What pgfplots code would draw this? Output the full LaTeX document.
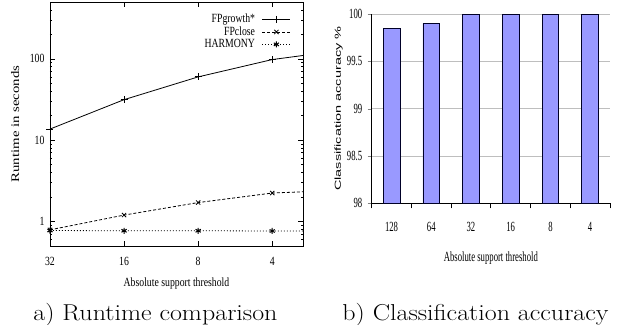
\documentclass[border=0pt]{standalone}
\usepackage{graphicx}
\usepackage{fontspec}
\usepackage{pgfplots}
\pgfplotsset{compat=1.18}
\newfontfamily\gpL[FakeStretch=0.78]{Liberation Serif}
\newfontfamily\gpR[FakeStretch=0.62]{Liberation Serif}
\newfontfamily\tnr{Liberation Serif}
\newfontfamily\arialR{Liberation Sans}
\definecolor{barfill}{RGB}{153,153,255}
\definecolor{gridgray}{RGB}{190,190,190}
\newcommand{\fL}{\gpL\fontsize{12.5bp}{14bp}\selectfont}
\newcommand{\fR}{\gpR\fontsize{14bp}{15bp}\selectfont}
\begin{document}
\begin{tikzpicture}
\useasboundingbox (0,0) rectangle (631bp,-325bp);
% ---------------- left: runtime ----------------
\begin{axis}[
  at={(50bp,-246bp)}, anchor=south west,
  scale only axis, width=253bp, height=244bp,
  xmode=log, log basis x=2, x dir=reverse,
  xmin=3, xmax=32,
  ymode=log, ymin=0.5, ymax=500,
  xtick={32,16,8,4}, xticklabels={32,16,8,4},
  minor xtick={},
  ytick={1,10,100}, yticklabels={1,10,100},
  minor ytick={0.6,0.7,0.8,0.9,2,3,4,5,6,7,8,9,20,30,40,50,60,70,80,90,200,300,400},
  tick align=inside,
  major tick length=5bp, minor tick length=2.5bp,
  every tick/.style={black, line width=0.6bp},
  axis line style={line width=0.9bp},
  tick label style={font=\fL},
  x tick label style={anchor=center, yshift=-15bp},
  y tick label style={anchor=east, xshift=-2bp},
  xlabel={Absolute support threshold},
  xlabel style={at={(axis description cs:0.5,-0.152)}, anchor=center, font=\fL},
  ylabel={\scalebox{1}[0.78]{\tnr\fontsize{14.8bp}{15bp}\selectfont Runtime in seconds}},
  ylabel style={at={(axis description cs:-0.138,0.5)}, anchor=center},
  legend plot pos=right,
  legend cell align=right,
  legend style={draw=none, fill=none, font=\fL, at={(rel axis cs:1,1)}, anchor=north east, xshift=-11bp, yshift=-9bp, row sep=-1.5bp, inner sep=1bp,
    /tikz/every odd column/.append style={column sep=5bp}},
  legend image code/.code={\draw[#1, mark indices={2}] plot coordinates {(0bp,0bp) (14bp,0bp) (28bp,0bp)};},
]
\addplot[black, line width=0.8bp, mark=+, mark size=3.5bp, mark indices={1,2,3,4}, mark options={solid}]
  coordinates {(32,13.7) (16,31.5) (8,60) (4,98) (3,110)};
\addlegendentry{FPgrowth*}
\addplot[black, line width=0.8bp, dash pattern=on 3bp off 2bp, mark=x, mark size=3bp, mark indices={1,2,3,4}, mark options={solid}]
  coordinates {(32,0.79) (16,1.2) (8,1.71) (4,2.24) (3,2.32)};
\addlegendentry{FPclose}
\addplot[black, line width=0.8bp, dash pattern=on 1bp off 2bp, mark=asterisk, mark size=3bp, mark indices={1,2,3,4}, mark options={solid, line width=1bp}]
  coordinates {(32,0.775) (16,0.77) (8,0.77) (4,0.765) (3,0.765)};
\addlegendentry{HARMONY}
\end{axis}
% ---------------- right: accuracy ----------------
\begin{axis}[
  at={(371.7bp,-203.3bp)}, anchor=south west,
  scale only axis, width=238.3bp, height=189.3bp,
  ybar, bar width=16.7bp, bar shift=0pt,
  xmin=-0.5, xmax=5.5, ymin=98, ymax=100,
  axis x line*=bottom, axis y line*=left,
  x axis line style={-, line width=1.2bp}, y axis line style={-, line width=1.2bp},
  xtick={0,1,2,3,4,5}, xticklabels={128,64,32,16,8,4},
  major x tick style={draw=none},
  extra x ticks={-0.5,0.5,1.5,2.5,3.5,4.5,5.5},
  extra x tick labels={},
  extra x tick style={major x tick style={draw=black, line width=0.8bp}, tick align=outside, major tick length=5bp},
  ytick={98,98.5,99,99.5,100}, yticklabels={98,98.5,99,99.5,100},
  ytick pos=left, xtick pos=bottom,
  tick align=outside, major tick length=4bp,
  ymajorgrids, grid style={gridgray, line width=0.9bp},
  tick label style={font=\fR},
  x tick label style={anchor=center, yshift=-20bp},
  y tick label style={anchor=east, xshift=-2bp},
  xlabel={Absolute support threshold},
  xlabel style={at={(axis description cs:0.5,-0.288)}, anchor=center, font=\fR},
  ylabel={\scalebox{1}[0.6]{\arialR\fontsize{14.5bp}{15bp}\selectfont Classification accuracy \%}},
  ylabel style={at={(axis description cs:-0.1385,0.5)}, anchor=center},
]
\addplot[fill=barfill, draw=black!85!blue, line width=0.8bp]
  coordinates {(0,99.85) (1,99.90) (2,100) (3,100) (4,100) (5,100)};
\end{axis}
% ---------------- captions ----------------
\node[anchor=base] at (155.5bp,-320bp) {\scalebox{1.13}[1]{\fontsize{23bp}{24bp}\selectfont a) Runtime comparison}};
\node[anchor=base] at (475.5bp,-320bp) {\scalebox{1.13}[1]{\fontsize{23bp}{24bp}\selectfont b) Classification accuracy}};
\end{tikzpicture}
\end{document}
